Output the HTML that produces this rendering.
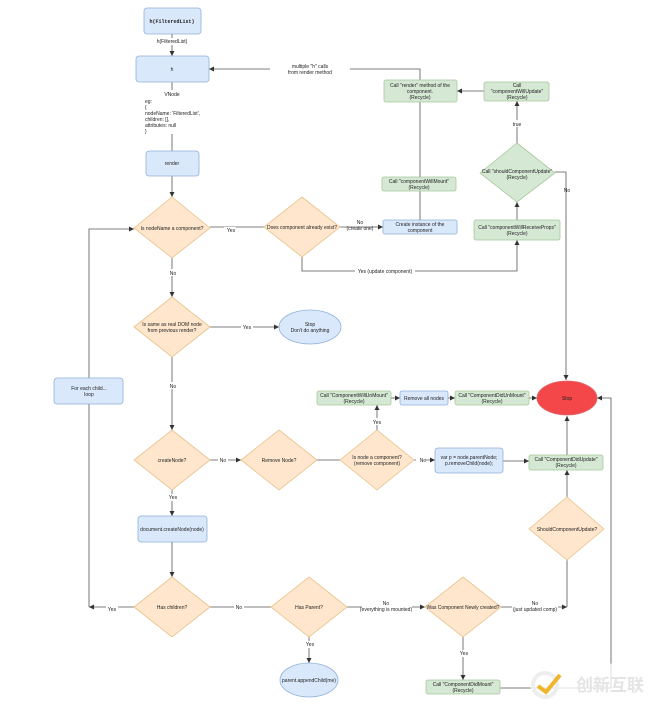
<!DOCTYPE html>
<html><head><meta charset="utf-8"><style>
html,body{margin:0;padding:0;background:#fff}
svg{display:block}
text{font-family:"Liberation Sans",sans-serif;font-size:5px;fill:#222;text-anchor:middle}
.b{fill:#dae8fc;stroke:#8fb0d8;stroke-width:.8}
.o{fill:#ffe6cc;stroke:#e8c28a;stroke-width:.8}
.g{fill:#d5e8d4;stroke:#a8c99a;stroke-width:.8}
.l{stroke:#555;stroke-width:.8;fill:none}
</style></head><body>
<svg width="663" height="715" viewBox="0 0 663 715" xmlns="http://www.w3.org/2000/svg">
<defs><marker id="a" markerWidth="6" markerHeight="6" refX="5" refY="3" orient="auto" markerUnits="userSpaceOnUse"><path d="M0,0.5 L5,3 L0,5.5z" fill="#333"/></marker></defs>

<!-- connectors -->
<path class="l" d="M172,34 V56" marker-end="url(#a)"/>
<path class="l" d="M172,82 V90 M172,134 V151"/>
<path class="l" d="M172,176 V197" marker-end="url(#a)"/>
<path class="l" d="M210,227 H264"/>
<path class="l" d="M340,227 H383" marker-end="url(#a)"/>
<path class="l" d="M420,220 V69 H209" marker-end="url(#a)"/>
<path class="l" d="M484,91 H457" marker-end="url(#a)"/>
<path class="l" d="M517,143 V101" marker-end="url(#a)"/>
<path class="l" d="M517,220 V202" marker-end="url(#a)"/>
<path class="l" d="M302,257 V271 H517 V240" marker-end="url(#a)"/>
<path class="l" d="M555,172 H566 V380" marker-end="url(#a)"/>
<path class="l" d="M89,607 V229 H134" marker-end="url(#a)"/>
<path class="l" d="M172,258 V297" marker-end="url(#a)"/>
<path class="l" d="M210,327 H279" marker-end="url(#a)"/>
<path class="l" d="M172,357 V430" marker-end="url(#a)"/>
<path class="l" d="M210,460 H241" marker-end="url(#a)"/>
<path class="l" d="M317,460 H340"/>
<path class="l" d="M377,430 V405" marker-end="url(#a)"/>
<path class="l" d="M391,398 H400" marker-end="url(#a)"/>
<path class="l" d="M448,398 H455" marker-end="url(#a)"/>
<path class="l" d="M529,398 H537" marker-end="url(#a)"/>
<path class="l" d="M414,460 H435" marker-end="url(#a)"/>
<path class="l" d="M503,461 H529" marker-end="url(#a)"/>
<path class="l" d="M567,455 V416" marker-end="url(#a)"/>
<path class="l" d="M567,497 V470" marker-end="url(#a)"/>
<path class="l" d="M172,490 V516" marker-end="url(#a)"/>
<path class="l" d="M172,542 V577" marker-end="url(#a)"/>
<path class="l" d="M134,607 H89" marker-end="url(#a)"/>
<path class="l" d="M210,607 H271"/>
<path class="l" d="M309,637 V663" marker-end="url(#a)"/>
<path class="l" d="M347,607 H425" marker-end="url(#a)"/>
<path class="l" d="M501,607 H567" marker-end="url(#a)"/>
<path class="l" d="M567,560 V607"/>
<path class="l" d="M463,637 V680" marker-end="url(#a)"/>
<path class="l" d="M500,688 H611 V398 H597" marker-end="url(#a)"/>

<!-- nodes -->
<rect class="b" x="144" y="8" width="57" height="26" rx="3"/>
<text x="172" y="23" style="font-family:'Liberation Mono',monospace;font-weight:bold">h(FilteredList)</text>
<rect fill="#fff" x="150" y="38" width="44" height="7"/><text x="172" y="43">h(FilteredList)</text>
<rect class="b" x="136" y="56" width="73" height="26" rx="3"/>
<text x="172" y="71">h</text>
<text x="172" y="96">VNode</text>
<text x="145" y="103" style="text-anchor:start">eg:</text>
<text x="145" y="109" style="text-anchor:start">{</text>
<text x="145" y="115" style="text-anchor:start"> nodeName: 'FilteredList',</text>
<text x="145" y="121" style="text-anchor:start"> children: [],</text>
<text x="145" y="127" style="text-anchor:start"> attributes: null</text>
<text x="145" y="133" style="text-anchor:start">}</text>
<rect class="b" x="146" y="151" width="53" height="25" rx="3"/>
<text x="172" y="165">render</text>

<polygon class="o" points="172,197 210,228 172,258 134,228"/>
<text x="172" y="230">Is nodeName a component?</text>
<rect fill="#fff" x="224" y="227" width="12" height="6"/><text x="231" y="232">Yes</text>
<polygon class="o" points="302,197 340,227 302,257 264,227"/>
<text x="302" y="229">Does component already exist?</text>
<text x="360" y="224">No</text><text x="360" y="230">(create one)</text>
<rect class="b" x="383" y="220" width="74" height="14" rx="2"/>
<text x="420" y="226">Create instance of the</text><text x="420" y="232">component</text>
<rect fill="#fff" x="270" y="64" width="80" height="12"/>
<text x="310" y="68">multiple "h" calls</text><text x="310" y="74">from render method</text>
<rect class="g" x="384" y="80" width="73" height="22" rx="2"/>
<text x="420" y="87">Call "render" method of the</text><text x="420" y="93">component.</text><text x="420" y="99">(Recycle)</text>
<rect class="g" x="382" y="177" width="74" height="14" rx="2"/>
<text x="419" y="183">Call "componentWillMount"</text><text x="419" y="189">(Recycle)</text>
<rect class="g" x="484" y="82" width="65" height="19" rx="2"/>
<text x="517" y="87">Call</text><text x="517" y="93">"componentWillUpdate"</text><text x="517" y="99">(Recycle)</text>
<rect fill="#fff" x="510" y="120" width="14" height="7"/><text x="517" y="126">true</text>
<polygon class="g" points="517,143 555,173 517,202 480,173"/>
<text x="517" y="173">Call "shouldComponentUpdate"</text><text x="517" y="179">(Recycle)</text>
<text x="567" y="192">No</text>
<rect class="g" x="474" y="220" width="86" height="20" rx="2"/>
<text x="517" y="229">Call "componentWillReceiveProps"</text><text x="517" y="235">(Recycle)</text>
<rect fill="#fff" x="355" y="268" width="60" height="7"/><text x="385" y="273">Yes (update component)</text>
<rect fill="#fff" x="168" y="269" width="10" height="7"/><text x="173" y="275">No</text>

<polygon class="o" points="172,297 210,327 172,357 134,327"/>
<text x="172" y="326">Is same as real DOM node</text><text x="172" y="332">from previous render?</text>
<rect fill="#fff" x="241" y="324" width="12" height="7"/><text x="247" y="329">Yes</text>
<ellipse class="b" cx="310" cy="327" rx="31" ry="17"/>
<text x="310" y="326">Stop</text><text x="310" y="332">Don't do anything</text>
<rect fill="#fff" x="168" y="382" width="10" height="7"/><text x="173" y="388">No</text>
<rect class="b" x="54" y="378" width="69" height="26" rx="3"/>
<text x="89" y="390">For each child...</text><text x="89" y="396">loop</text>

<polygon class="o" points="172,430 210,460 172,490 134,460"/>
<text x="172" y="462">createNode?</text>
<rect fill="#fff" x="218" y="457" width="10" height="7"/><text x="223" y="462">No</text>
<polygon class="o" points="279,430 317,460 279,490 241,460"/>
<text x="279" y="462">Remove Node?</text>
<polygon class="o" points="377,430 414,460 377,490 340,460"/>
<text x="377" y="459">Is node a component?</text><text x="377" y="465">(remove component)</text>
<rect fill="#fff" x="416" y="457" width="10" height="7"/><text x="423" y="462">No</text>
<rect fill="#fff" x="371" y="418" width="12" height="7"/><text x="377" y="424">Yes</text>
<rect class="g" x="317" y="391" width="74" height="14" rx="2"/>
<text x="354" y="397">Call "ComponentWillUnMount"</text><text x="354" y="403">(Recycle)</text>
<rect class="b" x="400" y="391" width="48" height="14" rx="2"/>
<text x="424" y="400">Remove all nodes</text>
<rect class="g" x="455" y="391" width="74" height="14" rx="2"/>
<text x="492" y="397">Call "ComponentDidUnMount"</text><text x="492" y="403">(Recycle)</text>
<ellipse cx="567" cy="398" rx="30" ry="17" fill="#f4474a" stroke="#e06666" stroke-width=".8"/>
<text x="567" y="400">Stop</text>
<rect class="b" x="435" y="448" width="68" height="25" rx="3"/>
<text x="469" y="459">var p = node.parentNode;</text><text x="469" y="465">p.removeChild(node);</text>
<rect class="g" x="529" y="455" width="74" height="15" rx="2"/>
<text x="566" y="461">Call "ComponentDidUpdate"</text><text x="566" y="467">(Recycle)</text>
<rect fill="#fff" x="167" y="494" width="12" height="7"/><text x="173" y="499">Yes</text>

<rect class="b" x="138" y="516" width="69" height="26" rx="3"/>
<text x="172" y="531">document.createNode(node)</text>
<polygon class="o" points="567,497 604,529 567,560 529,529"/>
<text x="567" y="531">ShouldComponentUpdate?</text>

<polygon class="o" points="172,577 210,607 172,637 134,607"/>
<text x="172" y="609">Has children?</text>
<rect fill="#fff" x="106" y="606" width="12" height="7"/><text x="112" y="611">Yes</text>
<rect fill="#fff" x="234" y="604" width="10" height="7"/><text x="239" y="609">No</text>
<polygon class="o" points="309,577 347,607 309,637 271,607"/>
<text x="309" y="609">Has Parent?</text>
<rect fill="#fff" x="362" y="601" width="50" height="12"/>
<text x="386" y="605">No</text><text x="386" y="611">(everything is mounted)</text>
<rect fill="#fff" x="303" y="641" width="12" height="7"/><text x="310" y="646">Yes</text>
<ellipse class="b" cx="309" cy="680" rx="29" ry="17"/>
<text x="309" y="682">parent.appendChild(me)</text>
<polygon class="o" points="463,577 501,607 463,637 425,607"/>
<text x="463" y="609">Was Component Newly created?</text>
<rect fill="#fff" x="512" y="601" width="46" height="12"/>
<text x="535" y="605">No</text><text x="535" y="611">(just updated comp)</text>
<rect fill="#fff" x="458" y="650" width="12" height="7"/><text x="464" y="655">Yes</text>
<rect class="g" x="426" y="680" width="74" height="14" rx="2"/>
<text x="463" y="686">Call "ComponentDidMount"</text><text x="463" y="692">(Recycle)</text>

<!-- watermark -->
<ellipse cx="595" cy="685" rx="65" ry="22" fill="#fff" opacity=".75"/>
<circle cx="545" cy="685" r="12" fill="none" stroke="#eee" stroke-width="4"/>
<path d="M538,686 L546,692 L560,675" fill="none" stroke="#f0b52a" stroke-width="4"/>
<text x="610" y="691" style="font-family:'Liberation Sans','Noto Sans CJK SC',sans-serif;font-size:17px;fill:#e4e4e4;font-weight:bold">创新互联</text>
</svg>
</body></html>
